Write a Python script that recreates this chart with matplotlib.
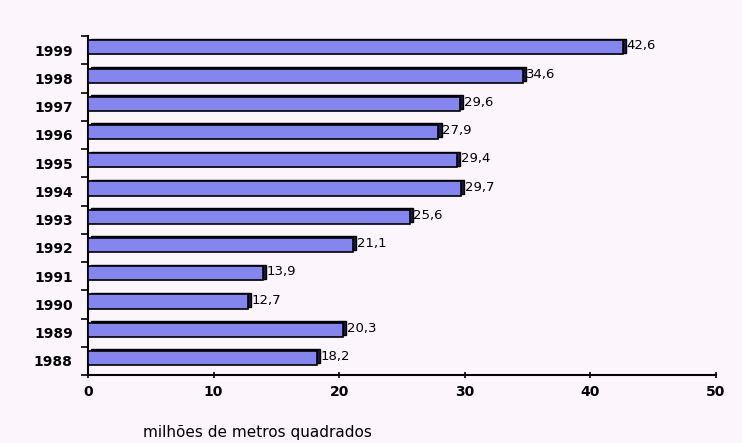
import numpy as np
import matplotlib.pyplot as plt

years = ['1988', '1989', '1990', '1991', '1992', '1993', '1994', '1995', '1996', '1997', '1998', '1999']
values = [18.2, 20.3, 12.7, 13.9, 21.1, 25.6, 29.7, 29.4, 27.9, 29.6, 34.6, 42.6]
xticks = [0, 10, 20, 30, 40, 50]

bg = '#fcf6fc'
fig = plt.figure(figsize=(7.42, 4.43), dpi=100, facecolor=bg)
ax = fig.add_axes([0.1186, 0.1535, 0.8464, 0.7652], facecolor=bg)

y = np.arange(len(years))
yc = y + 0.1
h = 0.5
# back face for the 3D look
ax.barh(yc + 0.06, values, height=h, left=0.25, color='#1a1a40', edgecolor='black', linewidth=1, zorder=2)
ax.barh(yc, values, height=h, color='#8585f0', edgecolor='black', linewidth=1.2, zorder=3)

for yy, v in zip(yc, values):
    ax.text(v + 0.3, yy + 0.05, ('%.1f' % v).replace('.', ','), ha='left', va='center',
            fontsize=9.5, color='black', zorder=4)

ax.set_xlim(0, 50)
ax.set_ylim(-0.5, len(years) - 0.5)
ax.set_xticks(xticks)
ax.set_xticklabels([str(t) for t in xticks], fontsize=10, fontweight='semibold')
ax.set_yticks(y)
ax.set_yticklabels(years, fontsize=10, fontweight='semibold')
ax.set_yticks(np.arange(-0.5, len(years)), minor=True)
ax.tick_params(axis='y', which='major', length=0, pad=11)
ax.tick_params(axis='y', which='minor', length=5, width=1.2, direction='out')
ax.tick_params(axis='x', length=5, width=1.2, direction='inout', pad=5)

for s in ['top', 'right']:
    ax.spines[s].set_visible(False)
for s in ['left', 'bottom']:
    ax.spines[s].set_linewidth(1.5)

fig.text(0.347, 0.024, 'milhões de metros quadrados', ha='center', va='center', fontsize=11)

plt.savefig('out.png', facecolor=bg)
